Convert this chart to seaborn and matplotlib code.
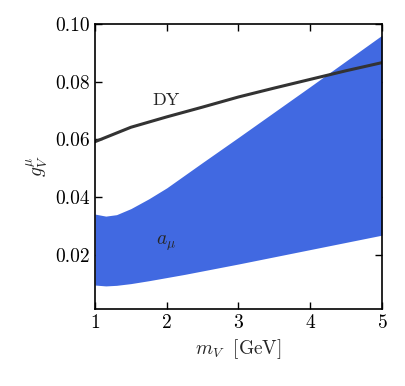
import numpy as np
import pandas as pd
import seaborn as sns
import matplotlib.pyplot as plt

# DY bound on g_V^mu
dy_mass = [1.0, 1.5, 2.0, 2.5, 3.0, 3.5, 4.0, 4.5, 5.0]
dy_coupling = [0.0592, 0.0642, 0.0678, 0.0712, 0.0747, 0.0778, 0.0808, 0.0838, 0.0866]

# a_mu preferred band
band_mass = [1.0, 1.15, 1.3, 1.5, 1.75, 2.0, 2.25, 2.5, 3.0, 3.5, 4.0, 4.5, 5.0]
band_upper = [0.0341, 0.0334, 0.0339, 0.0360, 0.0394, 0.0432, 0.0476, 0.0520,
              0.0607, 0.0695, 0.0783, 0.0872, 0.0961]
band_lower = [0.0095, 0.0092, 0.0094, 0.0100, 0.0110, 0.0121, 0.0132, 0.0144,
              0.0168, 0.0193, 0.0218, 0.0243, 0.0268]

x_ticks = [1, 2, 3, 4, 5]
y_ticks = [0.02, 0.04, 0.06, 0.08, 0.10]

sns.set_style("ticks")
plt.rcParams['font.family'] = 'serif'
plt.rcParams['font.serif'] = ['cmr10', 'DejaVu Serif']
plt.rcParams['mathtext.fontset'] = 'cm'
plt.rcParams['axes.formatter.use_mathtext'] = True

fig = plt.figure(figsize=(4.05, 3.86), dpi=100)
ax = fig.add_axes([0.2346, 0.1995, 0.7084, 0.7383])

ax.fill_between(band_mass, band_lower, band_upper, color='#4169E1', lw=0)

dy = pd.DataFrame({'m': dy_mass, 'g': dy_coupling})
sns.lineplot(data=dy, x='m', y='g', color='#333333', lw=2.2, ax=ax)

ax.text(1.99, 0.0737, 'DY', fontsize=13, ha='center', va='center')
ax.text(1.99, 0.0240, r'$a_\mu$', fontsize=14, ha='center', va='center')

ax.set_xlim(1, 5)
ax.set_ylim(0.0012, 0.1)
ax.set_xticks(x_ticks)
ax.set_yticks(y_ticks)
ax.set_yticklabels(['%.2f' % t for t in y_ticks])
ax.tick_params(direction='in', top=True, right=True, length=5, width=1,
               labelsize=14, colors='black')
for s in ax.spines.values():
    s.set_linewidth(1.2)
    s.set_color('black')

ax.set_xlabel(r'$m_V\ \ [\mathrm{GeV}]$', fontsize=14)
ax.set_ylabel(r'$g_V^\mu$', fontsize=14)

fig.savefig('out.png', dpi=100)
